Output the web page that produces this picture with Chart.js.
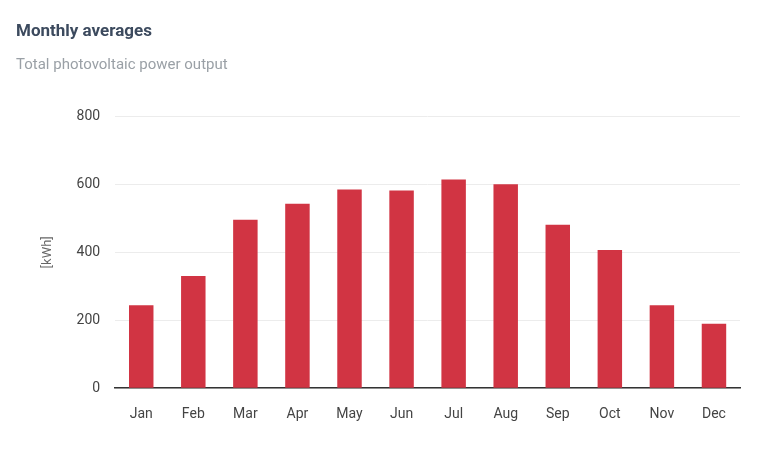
<!DOCTYPE html>
<html>
<head>
<meta charset="utf-8">
<script src="https://cdn.jsdelivr.net/npm/chart.js@4"></script>
<style>
  html, body { margin: 0; padding: 0; background: #fff; }
  #wrap { width: 757px; height: 450px; position: relative; }
</style>
</head>
<body>
<div id="wrap"><canvas id="pvChart"></canvas></div>
<script>
const months = ['Jan', 'Feb', 'Mar', 'Apr', 'May', 'Jun', 'Jul', 'Aug', 'Sep', 'Oct', 'Nov', 'Dec'];
const outputKwh = [244, 330, 496, 543, 585, 582, 614, 600, 481, 407, 244, 190];
const yTicks = [0, 200, 400, 600, 800];

const ctx = document.getElementById('pvChart').getContext('2d');
new Chart(ctx, {
    type: 'bar',
    data: {
        labels: months,
        datasets: [{
            label: 'Total photovoltaic power output',
            data: outputKwh,
            backgroundColor: '#d13443',
            barPercentage: 0.47,
            categoryPercentage: 1.0
        }]
    },
    options: {
        responsive: true,
        maintainAspectRatio: false,
        animation: false,
        layout: { padding: { left: 16, right: 17, top: 16, bottom: 17 } },
        plugins: {
            legend: { display: false },
            tooltip: { enabled: false },
            title: {
                display: true,
                text: 'Monthly averages',
                align: 'start',
                color: '#3c4a5e',
                font: { family: 'Roboto', size: 17, weight: 'bold' },
                padding: { top: 6, bottom: 14 }
            },
            subtitle: {
                display: true,
                text: 'Total photovoltaic power output',
                align: 'start',
                color: '#9aa0a6',
                font: { family: 'Roboto', size: 15 },
                padding: { bottom: 42 }
            }
        },
        scales: {
            x: {
                grid: { display: false },
                border: { color: '#333', width: 1.5 },
                ticks: { color: '#444', font: { family: 'Roboto', size: 14 }, padding: 10 }
            },
            y: {
                min: 0,
                max: 800,
                afterBuildTicks: axis => { axis.ticks = yTicks.map(v => ({ value: v })); },
                grid: { color: '#ececec', drawTicks: false },
                border: { display: false },
                ticks: { color: '#444', font: { family: 'Roboto', size: 14 }, padding: 15 },
                title: {
                    display: true,
                    text: '[kWh]',
                    color: '#666',
                    font: { family: 'Roboto', size: 13 },
                    padding: { top: 24, bottom: 6 }
                }
            }
        }
    }
});
</script>
</body>
</html>
